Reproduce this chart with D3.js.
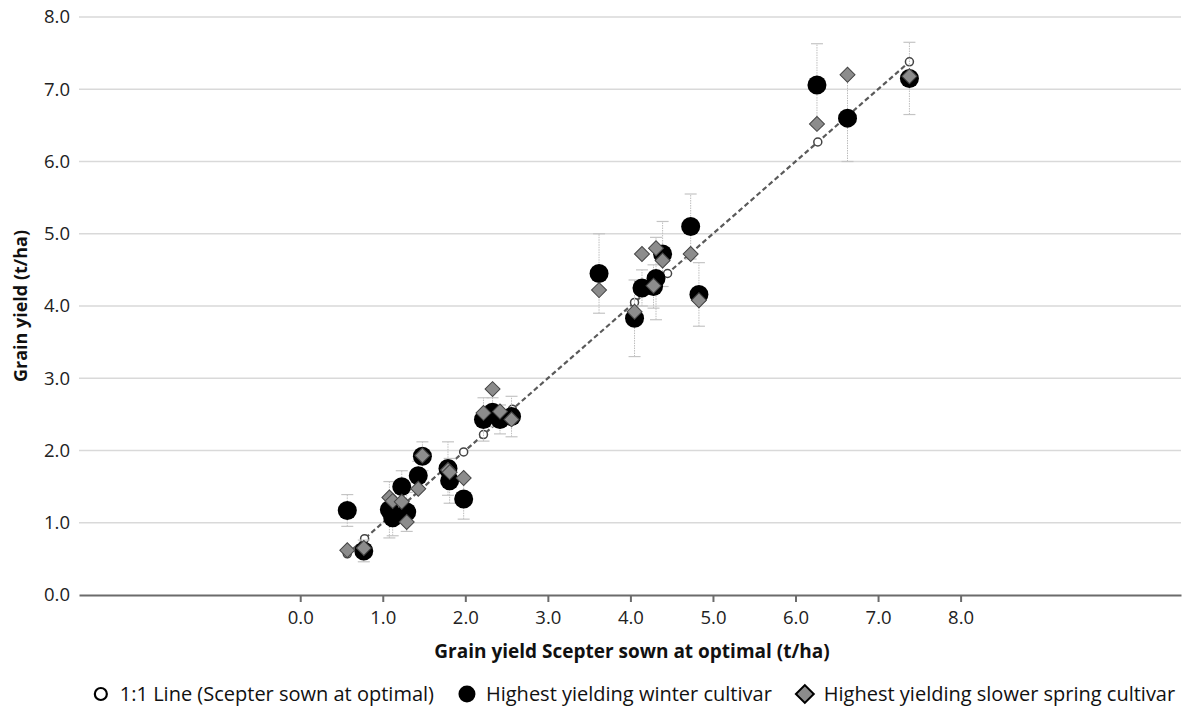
<!DOCTYPE html>
<html>
<head>
<meta charset="utf-8">
<script src="https://cdn.jsdelivr.net/npm/d3@7"></script>
<style>
  body { margin: 0; background: #fff; }
  svg { display: block; font-family: "Open Sans", sans-serif; }
</style>
</head>
<body>
<div id="chart"></div>
<script>
// Scepter sown at optimal (x) for each site
const scepter = [0.57, 0.77, 1.08, 1.12, 1.23, 1.29, 1.43, 1.48, 1.79, 1.81, 1.98, 2.22, 2.33, 2.42, 2.56,
                 3.62, 4.05, 4.14, 4.28, 4.31, 4.39, 4.73, 4.83, 6.26, 6.63, 7.38];
// highest yielding winter cultivar
const winter = [1.17, 0.61, 1.18, 1.07, 1.50, 1.15, 1.65, 1.92, 1.75, 1.58, 1.33, 2.43, 2.53, 2.43, 2.47,
                4.45, 3.83, 4.25, 4.27, 4.38, 4.72, 5.10, 4.16, 7.06, 6.60, 7.15];
const winterErr = [0.22, 0.15, 0.39, 0.25, 0.22, 0.27, 0.20, 0.20, 0.37, 0.31, 0.28, 0.30, 0.20, 0.20, 0.28,
                   0.55, 0.53, 0.25, 0.30, 0.57, 0.45, 0.45, 0.44, 0.57, 0.60, 0.50];
// highest yielding slower spring cultivar
const spring = [0.62, 0.65, 1.35, 1.30, 1.29, 1.01, 1.47, 1.93, 1.73, 1.70, 1.62, 2.52, 2.85, 2.54, 2.43,
                4.22, 3.92, 4.72, 4.28, 4.80, 4.63, 4.72, 4.08, 6.52, 7.20, 7.18];
// 1:1 line points (Scepter against itself)
const oneToOne = [0.57, 0.78, 1.98, 2.22, 2.57, 4.05, 4.45, 6.27, 7.38];

const xTicks = [0, 1, 2, 3, 4, 5, 6, 7, 8];
const yTicks = [0, 1, 2, 3, 4, 5, 6, 7, 8];
const legendLabels = ["1:1 Line (Scepter sown at optimal)", "Highest yielding winter cultivar", "Highest yielding slower spring cultivar"];

const W = 1190, H = 707;
const plotLeft = 79, plotRight = 1181, plotTop = 17, plotBottom = 595;

const svg = d3.select("#chart").append("svg")
    .attr("width", W)
    .attr("height", H);

// x axis runs wider than the data (Excel style)
const x = d3.scaleLinear().domain([-2.68, 10.67]).range([plotLeft, plotRight]);
const y = d3.scaleLinear().domain([0, 8]).range([plotBottom, plotTop]);

// gridlines
svg.append("g")
    .selectAll("line")
    .data(yTicks.filter(d => d > 0))
    .join("line")
    .attr("x1", plotLeft).attr("x2", plotRight)
    .attr("y1", d => y(d)).attr("y2", d => y(d))
    .attr("stroke", "#d9d9d9")
    .attr("stroke-width", 1.5);

// y axis labels (no axis line)
const yAxis = svg.append("g")
    .attr("transform", `translate(${plotLeft},0)`)
    .call(d3.axisLeft(y).tickValues(yTicks).tickFormat(d3.format(".1f")).tickSize(0).tickPadding(9));
yAxis.select(".domain").remove();
yAxis.selectAll("text").attr("font-size", 18.5).attr("fill", "#222").attr("font-family", "Open Sans");

// x axis
const xAxis = svg.append("g")
    .attr("transform", `translate(0,${plotBottom})`)
    .call(d3.axisBottom(x).tickValues(xTicks).tickFormat(d3.format(".1f")).tickSize(7).tickSizeOuter(0).tickPadding(9));
xAxis.select(".domain").attr("stroke", "#6b6b6b").attr("stroke-width", 2.2);
xAxis.selectAll(".tick line").attr("stroke", "#6b6b6b").attr("stroke-width", 2);
xAxis.selectAll("text").attr("font-size", 18.5).attr("fill", "#222").attr("font-family", "Open Sans");

// axis titles
svg.append("text")
    .attr("x", 632).attr("y", 658)
    .attr("text-anchor", "middle")
    .attr("font-size", 19).attr("font-weight", "bold").attr("fill", "#111")
    .text("Grain yield Scepter sown at optimal (t/ha)");

svg.append("text")
    .attr("transform", `translate(27,${(plotTop + plotBottom) / 2}) rotate(-90)`)
    .attr("text-anchor", "middle")
    .attr("font-size", 18).attr("font-weight", "bold").attr("fill", "#111")
    .text("Grain yield (t/ha)");

const sites = scepter.map((s, i) => ({ s, w: winter[i], e: winterErr[i], sp: spring[i] }));

// 1:1 dashed line
svg.append("path")
    .datum(oneToOne)
    .attr("fill", "none")
    .attr("stroke", "#5a5a5a")
    .attr("stroke-width", 2.2)
    .attr("stroke-dasharray", "5,3")
    .attr("d", d3.line().x(d => x(d)).y(d => y(d)));

svg.append("g")
    .selectAll("circle")
    .data(oneToOne)
    .join("circle")
    .attr("cx", d => x(d)).attr("cy", d => y(d))
    .attr("r", 4)
    .attr("fill", "#fff")
    .attr("stroke", "#444")
    .attr("stroke-width", 1.5);

// error bars on winter cultivar
const eb = svg.append("g").selectAll("g").data(sites).join("g");
eb.append("line")
    .attr("x1", d => x(d.s)).attr("x2", d => x(d.s))
    .attr("y1", d => y(d.w - d.e)).attr("y2", d => y(d.w + d.e))
    .attr("stroke", "#bdbdbd").attr("stroke-width", 1).attr("stroke-dasharray", "1.5,1");
eb.selectAll(".cap")
    .data(d => [d.w - d.e, d.w + d.e].map(v => ({ s: d.s, v })))
    .join("line")
    .attr("class", "cap")
    .attr("x1", d => x(d.s) - 6).attr("x2", d => x(d.s) + 6)
    .attr("y1", d => y(d.v)).attr("y2", d => y(d.v))
    .attr("stroke", "#c4c4c4").attr("stroke-width", 1.2);

// winter cultivar
svg.append("g")
    .selectAll("circle")
    .data(sites)
    .join("circle")
    .attr("cx", d => x(d.s)).attr("cy", d => y(d.w))
    .attr("r", 9.5)
    .attr("fill", "#000");

// spring cultivar
svg.append("g")
    .selectAll("path")
    .data(sites)
    .join("path")
    .attr("transform", d => `translate(${x(d.s)},${y(d.sp)}) rotate(45)`)
    .attr("d", d3.symbol().type(d3.symbolSquare).size(112))
    .attr("fill", "#8c8c8c")
    .attr("stroke", "#444")
    .attr("stroke-width", 1);

// legend
const legend = svg.append("g").attr("transform", "translate(0,694)");
const items = legend.selectAll("g").data(legendLabels).join("g");
items.append("text")
    .attr("x", 19).attr("y", 0)
    .attr("dy", "0.35em")
    .attr("font-size", 20).attr("fill", "#111")
    .text(d => d);

const widths = [];
items.each(function () { widths.push(this.querySelector("text").getComputedTextLength() + 19); });
const gap = 33;
const total = d3.sum(widths) + gap * (widths.length - 1);
let cx = 631 - total / 2;
items.attr("transform", (d, i) => {
    const t = `translate(${cx + 7},0)`;
    cx += widths[i] + gap;
    return t;
});
items.filter((d, i) => i === 0).append("circle")
    .attr("r", 6).attr("fill", "#fff").attr("stroke", "#000").attr("stroke-width", 2.2);
items.filter((d, i) => i === 1).append("circle")
    .attr("r", 8.5).attr("fill", "#000");
items.filter((d, i) => i === 2).append("path")
    .attr("transform", "rotate(45)")
    .attr("d", d3.symbol().type(d3.symbolSquare).size(160))
    .attr("fill", "#8c8c8c").attr("stroke", "#000").attr("stroke-width", 2);
</script>
</body>
</html>
